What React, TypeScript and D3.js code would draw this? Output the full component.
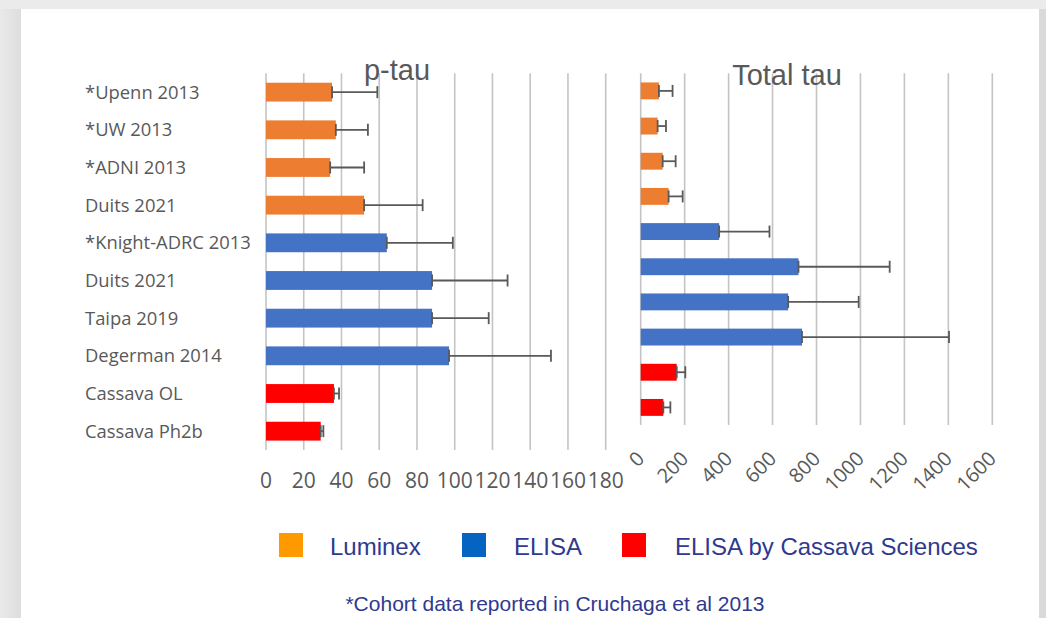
import React from "react";
import * as d3 from "d3";

const categories = [
  "*Upenn 2013",
  "*UW 2013",
  "*ADNI 2013",
  "Duits 2021",
  "*Knight-ADRC 2013",
  "Duits 2021",
  "Taipa 2019",
  "Degerman 2014",
  "Cassava OL",
  "Cassava Ph2b",
];
const methods = ["Luminex", "Luminex", "Luminex", "Luminex", "ELISA", "ELISA", "ELISA", "ELISA", "Cassava", "Cassava"];
const ptau = [35, 37, 34, 52, 64, 88, 88, 97, 36, 29];
const ptauSD = [24, 17, 18, 31, 35, 40, 30, 54, 2.7, 1.4];
const ttau = [83, 77, 100, 127, 357, 718, 671, 734, 164, 103];
const ttauSD = [62, 38, 59, 64, 229, 415, 321, 669, 39, 32];
const ptauTicks = [0, 20, 40, 60, 80, 100, 120, 140, 160, 180];
const ttauTicks = [0, 200, 400, 600, 800, 1000, 1200, 1400, 1600];
const legendItems = ["Luminex", "ELISA", "ELISA by Cassava Sciences"];
const legendColors = ["#FF9900", "#0563C1", "#FF0000"];
const barColors: Record<string, string> = { Luminex: "#ED7D31", ELISA: "#4472C4", Cassava: "#FF0000" };

const W = 1046;
const H = 618;
const idx = categories.map((_, i) => i);

export default function App() {
  const xL = d3.scaleLinear().domain([0, 180]).range([266, 605.7]);
  const yL = d3.scaleBand<number>().domain(idx).range([73.3, 450]).paddingInner(0.5).paddingOuter(0.25);
  const xR = d3.scaleLinear().domain([0, 1600]).range([640.7, 992.3]);
  const yR = d3.scaleBand<number>().domain(idx).range([73.3, 425]).paddingInner(0.52).paddingOuter(0.26);

  const gray = "#595959";
  const cap = 12;

  const panel = (
    x: d3.ScaleLinear<number, number>,
    y: d3.ScaleBand<number>,
    vals: number[],
    sds: number[],
    ticks: number[],
    key: string
  ) => (
    <g key={key}>
      {ticks.map((t) => (
        <line key={t} x1={x(t)} x2={x(t)} y1={y.range()[0]} y2={y.range()[1]} stroke="#c4c4c4" strokeWidth={1.6} />
      ))}
      {idx.map((i) => {
        const y0 = y(i)!;
        const bw = y.bandwidth();
        const cy = y0 + bw / 2;
        const x0 = x(vals[i]);
        const x1 = x(vals[i] + sds[i]);
        return (
          <g key={i}>
            <rect x={x(0)} y={y0} width={x0 - x(0)} height={bw} fill={barColors[methods[i]]} />
            <line x1={x0} x2={x1} y1={cy} y2={cy} stroke={gray} strokeWidth={1.8} />
            <line x1={x0} x2={x0} y1={cy - cap / 2} y2={cy + cap / 2} stroke={gray} strokeWidth={1.8} />
            <line x1={x1} x2={x1} y1={cy - cap / 2} y2={cy + cap / 2} stroke={gray} strokeWidth={1.8} />
          </g>
        );
      })}
    </g>
  );

  return (
    <svg width={W} height={H} style={{ position: "absolute", left: 0, top: 0 }}>
      <defs>
        <linearGradient id="lg" x1="0" x2="1" y1="0" y2="0">
          <stop offset="0" stopColor="#e9e9e9" />
          <stop offset="1" stopColor="#dedede" />
        </linearGradient>
      </defs>
      <rect x={0} y={0} width={W} height={H} fill="#ebebeb" />
      <rect x={0} y={9} width={21} height={H} fill="url(#lg)" />
      <rect x={1039} y={9} width={7} height={H} fill="#dadada" />
      <rect x={21} y={9} width={1018} height={H} fill="#ffffff" />

      {categories.map((c, i) => (
        <text
          key={i}
          x={85}
          y={yL(i)! + yL.bandwidth() / 2}
          dy="0.36em"
          fontFamily="Open Sans"
          fontSize={18.4}
          fill={gray}
        >
          {c}
        </text>
      ))}

      {panel(xL, yL, ptau, ptauSD, ptauTicks, "L")}
      {panel(xR, yR, ttau, ttauSD, ttauTicks, "R")}

      {ptauTicks.map((t) => (
        <text key={t} x={xL(t)} y={488} textAnchor="middle" fontFamily="Open Sans" fontSize={21} fill={gray}>
          {t}
        </text>
      ))}
      {ttauTicks.map((t) => (
        <text
          key={t}
          transform={`translate(${xR(t) + 5},${460}) rotate(-45)`}
          textAnchor="end"
          fontFamily="Open Sans"
          fontSize={20}
          fill={gray}
        >
          {t}
        </text>
      ))}

      <text x={397} y={80} textAnchor="middle" fontFamily="Liberation Sans" fontSize={29} fill={gray}>
        p-tau
      </text>
      <text x={787} y={85} textAnchor="middle" fontFamily="Liberation Sans" fontSize={29} fill={gray}>
        Total tau
      </text>

      {legendItems.map((l, i) => {
        const xs = [279, 462, 622][i];
        const tx = [330, 514, 675][i];
        return (
          <g key={l}>
            <rect x={xs} y={533} width={24} height={24} fill={legendColors[i]} />
            <text x={tx} y={546} dy="0.36em" fontFamily="Liberation Sans" fontSize={24} fill="#2f3a8f">
              {l}
            </text>
          </g>
        );
      })}
      <text x={555} y={603} dy="0.36em" textAnchor="middle" fontFamily="Liberation Sans" fontSize={21} fill="#2f3a8f">
        *Cohort data reported in Cruchaga et al 2013
      </text>
    </svg>
  );
}
